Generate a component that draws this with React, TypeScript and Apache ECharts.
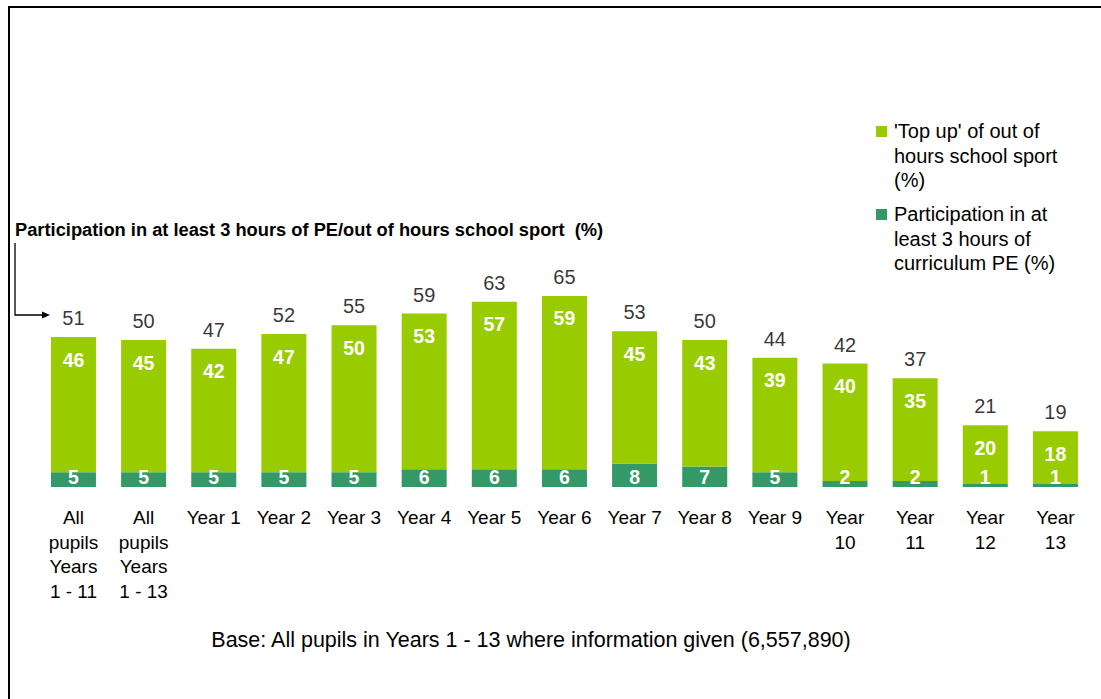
import React, { useEffect, useRef } from "react";
import * as echarts from "echarts";

const categories = [
  "All\npupils\nYears\n1 - 11",
  "All\npupils\nYears\n1 - 13",
  "Year 1",
  "Year 2",
  "Year 3",
  "Year 4",
  "Year 5",
  "Year 6",
  "Year 7",
  "Year 8",
  "Year 9",
  "Year\n10",
  "Year\n11",
  "Year\n12",
  "Year\n13",
];
const curriculumPE = [5, 5, 5, 5, 5, 6, 6, 6, 8, 7, 5, 2, 2, 1, 1];
const topUp = [46, 45, 42, 47, 50, 53, 57, 59, 45, 43, 39, 40, 35, 20, 18];
const totals = [51, 50, 47, 52, 55, 59, 63, 65, 53, 50, 44, 42, 37, 21, 19];

const topUpName = "'Top up' of out of\nhours school sport\n(%)";
const peName = "Participation in at\nleast 3 hours of\ncurriculum PE (%)";
const annotation = "Participation in at least 3 hours of PE/out of hours school sport  (%)";
const footer = "Base: All pupils in Years 1 - 13 where information given (6,557,890)";

const LIGHT = "#99CC00";
const DARK = "#339966";
const FONT = "'Liberation Sans', Arial, sans-serif";

export default function App() {
  const ref = useRef<HTMLDivElement>(null);
  useEffect(() => {
    if (!ref.current) return;
    const chart = echarts.init(ref.current, undefined, { renderer: "svg" });
    chart.setOption({
      animation: false,
      backgroundColor: "#ffffff",
      textStyle: { fontFamily: FONT },
      grid: { left: 38.4, right: 10.5, top: 193, bottom: 212, containLabel: false },
      xAxis: {
        type: "category",
        data: categories,
        axisLine: { show: false },
        axisTick: { show: false },
        axisLabel: {
          interval: 0,
          margin: 18,
          fontSize: 19,
          lineHeight: 24.7,
          color: "#000",
          fontFamily: FONT,
          verticalAlign: "top",
        },
      },
      yAxis: {
        type: "value",
        min: 0,
        max: 100,
        show: false,
        splitLine: { show: false },
      },
      series: [
        {
          name: peName,
          type: "bar",
          stack: "total",
          barWidth: 45,
          data: curriculumPE,
          itemStyle: { color: DARK },
          label: {
            show: true,
            position: "insideBottom",
            distance: 0,
            color: "#fff",
            fontWeight: "bold",
            fontSize: 19.5,
            fontFamily: FONT,
          },
        },
        {
          name: topUpName,
          type: "bar",
          stack: "total",
          barWidth: 45,
          data: topUp,
          itemStyle: { color: LIGHT },
          label: {
            show: true,
            position: "insideTop",
            distance: 12.5,
            color: "#fff",
            fontWeight: "bold",
            fontSize: 19.5,
            fontFamily: FONT,
          },
        },
        {
          name: "Total",
          type: "scatter",
          data: totals,
          symbolSize: 0,
          silent: true,
          itemStyle: { color: "transparent" },
          label: {
            show: true,
            position: "top",
            distance: 9,
            color: "#000",
            fontSize: 20,
            fontFamily: FONT,
            formatter: (p: any) => String(p.value),
          },
        },
      ],
      graphic: [
        {
          type: "rect",
          shape: { x: 9, y: 7, width: 1200, height: 800 },
          style: { fill: "none", stroke: "#000", lineWidth: 2 },
          silent: true,
        },
        {
          type: "text",
          x: 15,
          y: 229,
          style: {
            text: annotation,
            fontSize: 18.3,
            fontWeight: "bold",
            fontFamily: FONT,
            fill: "#000",
            verticalAlign: "middle",
          },
        },
        {
          type: "polyline",
          shape: { points: [[15, 243], [15, 315], [44, 315]] },
          style: { stroke: "#000", lineWidth: 1.3, fill: "none" },
        },
        {
          type: "polygon",
          shape: { points: [[42, 311.5], [50, 315], [42, 318.5]] },
          style: { fill: "#000" },
        },
        {
          type: "rect",
          shape: { x: 876, y: 126, width: 11, height: 11 },
          style: { fill: LIGHT },
        },
        {
          type: "text",
          x: 894,
          y: 118.75,
          style: {
            text: topUpName,
            fontSize: 20,
            lineHeight: 24.5,
            fontFamily: FONT,
            fill: "#000",
            verticalAlign: "top",
          },
        },
        {
          type: "rect",
          shape: { x: 876, y: 209, width: 11, height: 11 },
          style: { fill: DARK },
        },
        {
          type: "text",
          x: 894,
          y: 201.75,
          style: {
            text: peName,
            fontSize: 20,
            lineHeight: 24.5,
            fontFamily: FONT,
            fill: "#000",
            verticalAlign: "top",
          },
        },
        {
          type: "text",
          x: 531,
          y: 640,
          style: {
            text: footer,
            fontSize: 21.5,
            fontFamily: FONT,
            fill: "#000",
            align: "center",
            verticalAlign: "middle",
          },
        },
      ],
    });
    return () => chart.dispose();
  }, []);
  return (
    <div
      ref={ref}
      style={{ position: "absolute", left: 0, top: 0, width: 1101, height: 699 }}
    />
  );
}
